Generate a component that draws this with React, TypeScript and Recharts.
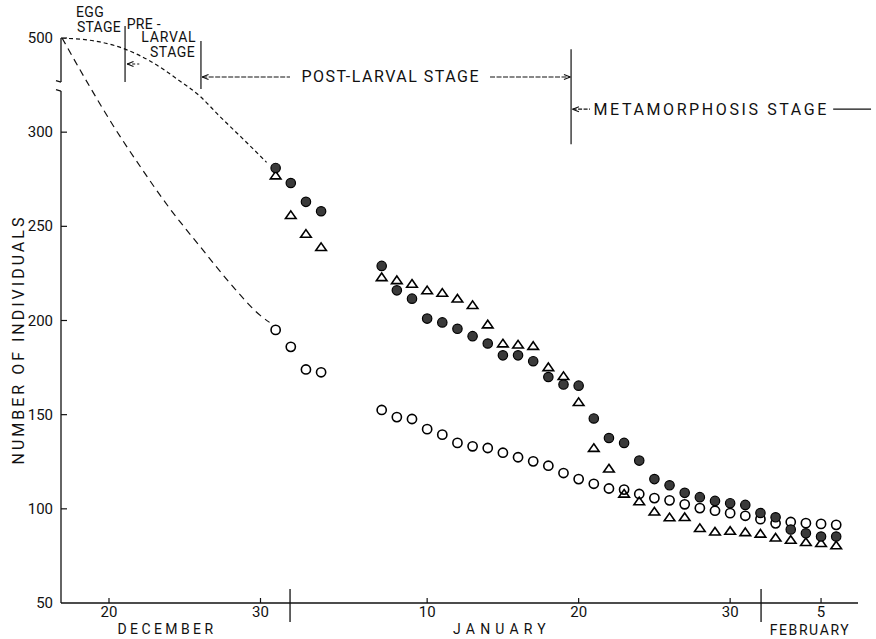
import React from 'react';
import { ComposedChart, Scatter, XAxis, YAxis, ReferenceLine, ReferenceDot } from 'recharts';

// ---- data (day number counted from 1 December; Jan 1 = 32, Feb 1 = 63) ----
const days = [31, 32, 33, 34, 38, 39, 40, 41, 42, 43, 44, 45, 46, 47, 48, 49, 50, 51, 52, 53, 54, 55, 56, 57, 58, 59, 60, 61, 62, 63, 64, 65, 66, 67, 68];
const filledCounts = [281, 273, 263, 258, 229, 216, 211.6, 201, 199, 195.6, 191.7, 187.8, 181.5, 181.5, 178.4, 170, 166, 165.4, 148, 137.6, 135, 125.6, 115.8, 112.5, 108.5, 106.2, 104.2, 103, 102.1, 97.8, 95.5, 89, 87, 85.3, 85.3];
const triangleCounts = [277, 256, 246, 239, 223, 221.4, 219.5, 216, 214.7, 211.6, 208.2, 197.9, 187.8, 187.2, 186.5, 175.2, 170.5, 156.7, 132.3, 121.4, 108, 104, 98.5, 95.5, 95.6, 89.8, 87.9, 88.3, 87.6, 86.8, 84.7, 83.5, 82.3, 81.8, 80.6];
const openCounts = [195, 186, 174, 172.5, 152.5, 148.7, 147.7, 142.3, 139.4, 135, 133.2, 132.3, 129.8, 127.4, 125.2, 122.9, 119, 115.8, 113.3, 110.8, 110.2, 107.9, 105.7, 104.5, 102.4, 100.4, 99, 97.7, 96.3, 94.5, 92.3, 93, 92.4, 92, 91.5];

// extrapolated guide curves (axis units; 350 on the axis stands for 500 above the break)
const guideUpperDays = [16.9, 19.4, 21.06, 22.7, 24.5, 26.0, 27.3, 29.0, 30.4];
const guideUpperVals = [350, 347.9, 344.1, 337.8, 328.2, 319.1, 308.5, 295.2, 284];
const guideLowerDays = [16.9, 18.75, 20.26, 22.05, 24.0, 26.0, 28.0, 30.0, 30.6];
const guideLowerVals = [350, 323.9, 303.7, 281.9, 259.6, 239.4, 219.7, 202.6, 199];

// ticks
const xTickDays = [20, 30, 41, 51, 61, 67];
const xTickLabels = ['20', '30', '10', '20', '30', '5'];
const yTicks = [50, 100, 150, 200, 250, 300, 350];
const yTickLabels = ['50', '100', '150', '200', '250', '300', '500'];

const monthNames = ['DECEMBER', 'JANUARY', 'FEBRUARY'];
const monthCenters = [23.83, 45.94, 66.27];
const monthSeparators = [31.95, 63.04];

const X_DOMAIN: [number, number] = [16.832, 69.439];
const Y_DOMAIN: [number, number] = [50, 350];

const FONT = "Roboto, 'Liberation Sans', Arial, sans-serif";
const INK = '#111';

const filledData = days.map((d, i) => ({ day: d, v: filledCounts[i] }));
const triangleData = days.map((d, i) => ({ day: d, v: triangleCounts[i] }));
const openData = days.map((d, i) => ({ day: d, v: openCounts[i] }));
const guideUpper = guideUpperDays.map((d, i) => ({ day: d, v: guideUpperVals[i] }));
const guideLower = guideLowerDays.map((d, i) => ({ day: d, v: guideLowerVals[i] }));

// annotation texts (day, axis value)
const annotations = [
  { text: 'EGG', day: 18.75, v: 363.6, size: 14, ls: 0.3 },
  { text: 'STAGE', day: 19.34, v: 356.0, size: 14, ls: 0.3 },
  { text: 'PRE -', day: 22.3, v: 357.6, size: 14, ls: 0.3 },
  { text: 'LARVAL', day: 23.95, v: 350.5, size: 14, ls: 0.8 },
  { text: 'STAGE', day: 24.2, v: 342.4, size: 14, ls: 0.5 },
  { text: 'POST-LARVAL STAGE', day: 38.6, v: 329.3, size: 16, ls: 1.5 },
  { text: 'METAMORPHOSIS STAGE', day: 59.75, v: 312.2, size: 16, ls: 2.6 },
];

type Seg = { x1: number; y1: number; x2: number; y2: number; dash?: string };
const stageSegments: Seg[] = [
  // stage boundaries
  { x1: 21.06, y1: 356.4, x2: 21.06, y2: 326.6 },
  { x1: 26.07, y1: 348.4, x2: 26.07, y2: 322.9 },
  { x1: 50.5, y1: 344.0, x2: 50.5, y2: 293.6 },
  // egg arrow
  { x1: 21.2, y1: 336.2, x2: 22.0, y2: 336.2, dash: '3 2' },
  // post-larval arrow
  { x1: 26.15, y1: 329.3, x2: 31.95, y2: 329.3, dash: '5 1.5' },
  { x1: 45.15, y1: 329.3, x2: 50.45, y2: 329.3, dash: '5 1.5' },
  // metamorphosis arrow
  { x1: 50.6, y1: 312.2, x2: 51.75, y2: 312.2, dash: '4 1.5' },
  { x1: 67.8, y1: 312.2, x2: 70.3, y2: 312.2 },
];
const arrowTips = [
  { day: 21.2, v: 336.2, dir: 1 },
  { day: 26.15, v: 329.3, dir: 1 },
  { day: 50.45, v: 329.3, dir: -1 },
  { day: 50.6, v: 312.2, dir: 1 },
];

// y axis with break
const yAxisSegments: Seg[] = [
  { x1: X_DOMAIN[0], y1: 350, x2: X_DOMAIN[0], y2: 326.6 },
  { x1: X_DOMAIN[0], y1: 326.6, x2: X_DOMAIN[0] - 0.33, y2: 327.4 },
  { x1: X_DOMAIN[0], y1: 321.8, x2: X_DOMAIN[0], y2: 50 },
  { x1: X_DOMAIN[0], y1: 321.8, x2: X_DOMAIN[0] - 0.33, y2: 322.6 },
];

const YTick = (props: any) => {
  const { x, y, payload } = props;
  const idx = yTicks.indexOf(payload.value);
  return (
    <g>
      {payload.value !== 50 && <line x1={x} x2={x + 6} y1={y} y2={y} stroke={INK} strokeWidth={1.2} />}
      <text x={x - 8} y={y} textAnchor="end" dominantBaseline="central" fontFamily={FONT} fontSize={15} fill={INK}>
        {yTickLabels[idx]}
      </text>
    </g>
  );
};

const XTick = (props: any) => {
  const { x, y, payload } = props;
  const idx = xTickDays.indexOf(payload.value);
  return (
    <g>
      <line x1={x} x2={x} y1={y} y2={y - 5} stroke={INK} strokeWidth={1.2} />
      <text x={x} y={y + 9} textAnchor="middle" dominantBaseline="central" fontFamily={FONT} fontSize={15} fill={INK}>
        {xTickLabels[idx]}
      </text>
    </g>
  );
};

const FilledDot = (p: any) => <circle cx={p.cx} cy={p.cy} r={4.7} fill="#3a3a3a" stroke="#000" strokeWidth={1.2} />;
const OpenDot = (p: any) => <circle cx={p.cx} cy={p.cy} r={4.6} fill="none" stroke="#000" strokeWidth={1.6} />;
const TriDot = (p: any) => (
  <path
    d={`M${p.cx},${p.cy - 4.2} L${p.cx + 5.3},${p.cy + 3.4} L${p.cx - 5.3},${p.cy + 3.4} Z`}
    fill="none"
    stroke="#000"
    strokeWidth={1.6}
  />
);
const NoDot = () => <g />;

const textShape = (text: string, size: number, ls: number, rotate = 0) => (p: any) => (
  <text
    x={p.cx}
    y={p.cy}
    textAnchor="middle"
    dominantBaseline="central"
    fontFamily={FONT}
    fontSize={size}
    letterSpacing={ls}
    fill={INK}
    transform={rotate ? `rotate(${rotate} ${p.cx} ${p.cy})` : undefined}
  >
    {text}
  </text>
);

export default function App() {
  return (
    <div style={{ position: 'absolute', left: 0, top: 0, width: 876, height: 639 }}>
      <ComposedChart width={876} height={639} margin={{ top: 38, right: 18, bottom: 6, left: 16 }}>
        <XAxis
          type="number"
          dataKey="day"
          domain={X_DOMAIN}
          allowDataOverflow
          ticks={xTickDays}
          interval={0}
          tick={XTick}
          tickSize={0}
          tickMargin={0}
          tickLine={false}
          height={30}
          axisLine={{ stroke: INK, strokeWidth: 1.3 }}
        />
        <YAxis
          type="number"
          dataKey="v"
          domain={Y_DOMAIN}
          allowDataOverflow
          ticks={yTicks}
          interval={0}
          tick={YTick}
          tickSize={0}
          tickMargin={0}
          tickLine={false}
          axisLine={false}
          width={45}
        />

        {yAxisSegments.map((s, i) => (
          <ReferenceLine
            key={'ya' + i}
            segment={[{ x: s.x1, y: s.y1 }, { x: s.x2, y: s.y2 }]}
            stroke={INK}
            strokeWidth={1.3}
            ifOverflow="visible"
          />
        ))}
        {monthSeparators.map((d, i) => (
          <ReferenceLine
            key={'ms' + i}
            segment={[{ x: d, y: 57.4 }, { x: d, y: 39.9 }]}
            stroke={INK}
            strokeWidth={1.3}
            ifOverflow="visible"
          />
        ))}
        {stageSegments.map((s, i) => (
          <ReferenceLine
            key={'st' + i}
            segment={[{ x: s.x1, y: s.y1 }, { x: s.x2, y: s.y2 }]}
            stroke={INK}
            strokeWidth={1.2}
            strokeDasharray={s.dash}
            ifOverflow="visible"
          />
        ))}
        {arrowTips.flatMap((a, i) => [
          <ReferenceLine
            key={'ah' + i + 'a'}
            segment={[{ x: a.day, y: a.v }, { x: a.day + a.dir * 0.42, y: a.v + 1.3 }]}
            stroke={INK}
            strokeWidth={1.1}
            ifOverflow="visible"
          />,
          <ReferenceLine
            key={'ah' + i + 'b'}
            segment={[{ x: a.day, y: a.v }, { x: a.day + a.dir * 0.42, y: a.v - 1.3 }]}
            stroke={INK}
            strokeWidth={1.1}
            ifOverflow="visible"
          />,
        ])}

        {annotations.map((a, i) => (
          <ReferenceDot key={'an' + i} x={a.day} y={a.v} r={0} ifOverflow="visible" shape={textShape(a.text, a.size, a.ls)} />
        ))}
        {monthNames.map((m, i) => (
          <ReferenceDot
            key={'mn' + i}
            x={monthCenters[i]}
            y={[36.0, 36.0, 35.8][i]}
            r={0}
            ifOverflow="visible"
            shape={textShape(m, 14, [3.4, 5.2, 1.6][i])}
          />
        ))}
        <ReferenceDot x={14.06} y={189.9} r={0} ifOverflow="visible" shape={textShape('NUMBER OF INDIVIDUALS', 16, 3, -90)} />

        <Scatter
          data={guideUpper}
          line={{ stroke: INK, strokeWidth: 1.2, strokeDasharray: '4 3' }}
          lineJointType="monotoneX"
          shape={NoDot}
          isAnimationActive={false}
        />
        <Scatter
          data={guideLower}
          line={{ stroke: INK, strokeWidth: 1.2, strokeDasharray: '7 5' }}
          lineJointType="monotoneX"
          shape={NoDot}
          isAnimationActive={false}
        />
        <Scatter data={openData} shape={OpenDot} isAnimationActive={false} />
        <Scatter data={triangleData} shape={TriDot} isAnimationActive={false} />
        <Scatter data={filledData} shape={FilledDot} isAnimationActive={false} />
      </ComposedChart>
    </div>
  );
}
